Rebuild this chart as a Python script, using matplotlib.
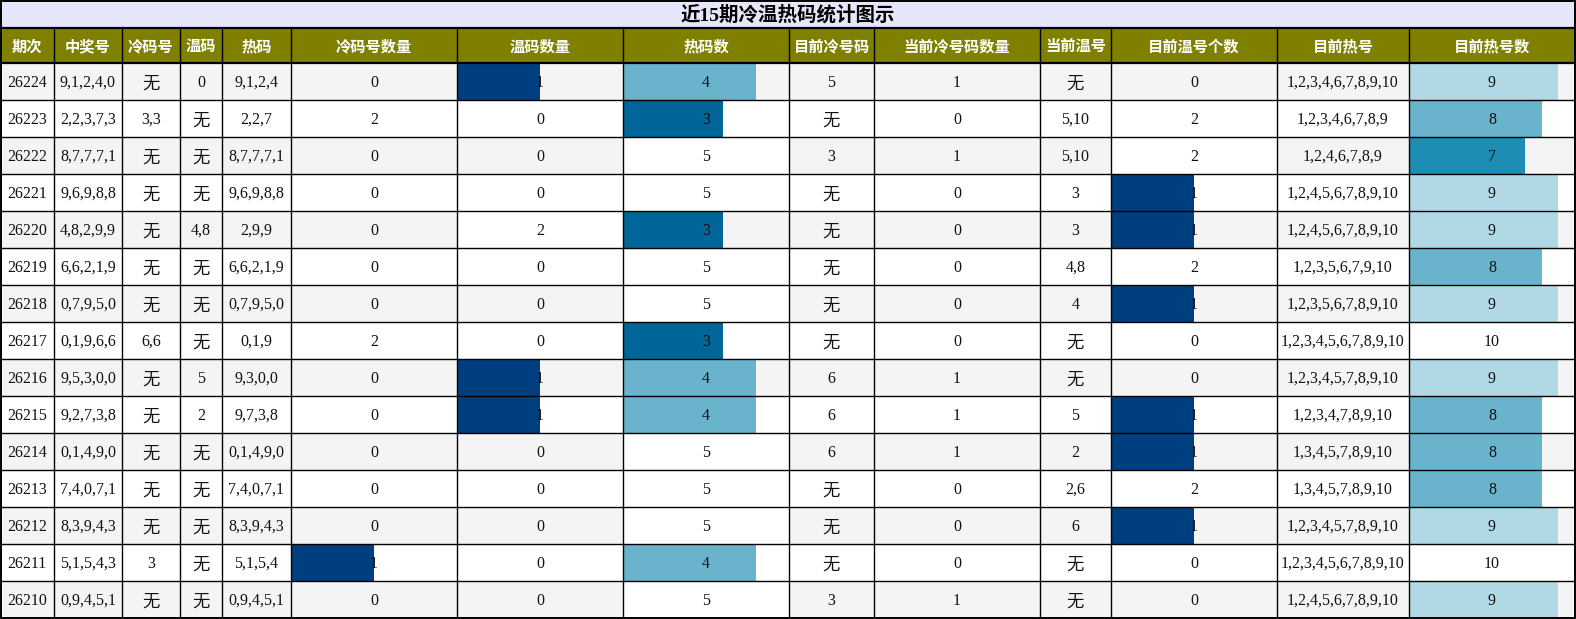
"""近15期冷温热码统计图示 — table with in-cell data bars."""
import matplotlib
matplotlib.use("Agg")
import matplotlib.pyplot as plt
from matplotlib.patches import Rectangle

# ---- data (one list per column)
title = "近15期冷温热码统计图示"
headers = ["期次", "中奖号", "冷码号", "温码", "热码", "冷码号数量", "温码数量", "热码数",
           "目前冷号码", "当前冷号码数量", "当前温号", "目前温号个数", "目前热号", "目前热号数"]

issue = ["26224", "26223", "26222", "26221", "26220", "26219", "26218", "26217",
         "26216", "26215", "26214", "26213", "26212", "26211", "26210"]
winning = ["9,1,2,4,0", "2,2,3,7,3", "8,7,7,7,1", "9,6,9,8,8", "4,8,2,9,9", "6,6,2,1,9",
           "0,7,9,5,0", "0,1,9,6,6", "9,5,3,0,0", "9,2,7,3,8", "0,1,4,9,0", "7,4,0,7,1",
           "8,3,9,4,3", "5,1,5,4,3", "0,9,4,5,1"]
cold = ["无", "3,3", "无", "无", "无", "无", "无", "6,6", "无", "无", "无", "无", "无", "3", "无"]
warm = ["0", "无", "无", "无", "4,8", "无", "无", "无", "5", "2", "无", "无", "无", "无", "无"]
hot = ["9,1,2,4", "2,2,7", "8,7,7,7,1", "9,6,9,8,8", "2,9,9", "6,6,2,1,9", "0,7,9,5,0",
       "0,1,9", "9,3,0,0", "9,7,3,8", "0,1,4,9,0", "7,4,0,7,1", "8,3,9,4,3", "5,1,5,4",
       "0,9,4,5,1"]
cold_cnt = [0, 2, 0, 0, 0, 0, 0, 2, 0, 0, 0, 0, 0, 1, 0]
warm_cnt = [1, 0, 0, 0, 2, 0, 0, 0, 1, 1, 0, 0, 0, 0, 0]
hot_cnt = [4, 3, 5, 5, 3, 5, 5, 3, 4, 4, 5, 5, 5, 4, 5]
cur_cold = ["5", "无", "3", "无", "无", "无", "无", "无", "6", "6", "6", "无", "无", "无", "3"]
cur_cold_cnt = [1, 0, 1, 0, 0, 0, 0, 0, 1, 1, 1, 0, 0, 0, 1]
cur_warm = ["无", "5,10", "5,10", "3", "3", "4,8", "4", "无", "无", "5", "2", "2,6", "6", "无", "无"]
cur_warm_cnt = [0, 2, 2, 1, 1, 2, 1, 0, 0, 1, 1, 2, 1, 0, 0]
cur_hot = ["1,2,3,4,6,7,8,9,10", "1,2,3,4,6,7,8,9", "1,2,4,6,7,8,9", "1,2,4,5,6,7,8,9,10",
           "1,2,4,5,6,7,8,9,10", "1,2,3,5,6,7,9,10", "1,2,3,5,6,7,8,9,10",
           "1,2,3,4,5,6,7,8,9,10", "1,2,3,4,5,7,8,9,10", "1,2,3,4,7,8,9,10",
           "1,3,4,5,7,8,9,10", "1,3,4,5,7,8,9,10", "1,2,3,4,5,7,8,9,10",
           "1,2,3,4,5,6,7,8,9,10", "1,2,4,5,6,7,8,9,10"]
cur_hot_cnt = [9, 8, 7, 9, 9, 8, 9, 10, 9, 8, 8, 8, 9, 10, 9]

columns = [issue, winning, cold, warm, hot, cold_cnt, warm_cnt, hot_cnt,
           cur_cold, cur_cold_cnt, cur_warm, cur_warm_cnt, cur_hot, cur_hot_cnt]

# ---- styles / layout
DARK = "#003f7f"
bar_colors = {
    5: {1: DARK, 2: "white"},
    6: {1: DARK, 2: "white"},
    7: {3: "#006699", 4: "#69b4cc", 5: "white"},
    11: {1: DARK, 2: "white"},
    13: {7: "#1e8db6", 8: "#69b4cc", 9: "#b1d9e5", 10: "white"},
}
col_edges = [0, 54, 122, 180, 222, 291, 457, 623, 789, 874, 1040, 1111, 1277, 1409, 1575]
W, H = 1576, 619
title_h, head_top, head_bot, row_h = 27.5, 27.5, 63, 37

body_font = ["Liberation Serif", "Noto Sans CJK SC"]
head_font = ["Noto Sans CJK SC", "DejaVu Sans"]

fig = plt.figure(figsize=(W / 100, H / 100), dpi=100)
ax = fig.add_axes([0, 0, 1, 1])
ax.set_xlim(0, W)
ax.set_ylim(H, 0)
ax.axis("off")

n_rows = len(issue)
x_left, x_right = col_edges[0] + 0.5, col_edges[-1]
y_bottom = head_bot + n_rows * row_h

# title band
ax.add_patch(Rectangle((x_left, 0.5), x_right - x_left, title_h, fc="#e6e6fa", ec="none"))
ax.text((x_left + x_right) / 2, title_h / 2 + 7, title, ha="center", va="baseline",
        fontsize=14, fontweight="bold", family=["Liberation Serif", "Noto Sans CJK SC"],
        color="black")

# header band
ax.add_patch(Rectangle((x_left, head_top), x_right - x_left, head_bot - head_top,
                       fc="#808000", ec="none"))
for j, h in enumerate(headers):
    cx = (col_edges[j] + col_edges[j + 1]) / 2
    ax.text(cx, (head_top + head_bot) / 2 + 6, h, ha="center", va="baseline", fontsize=11,
            fontweight="bold", color="white", family=head_font)

# body rows
for i in range(n_rows):
    y0 = head_bot + i * row_h
    bg = "#f4f4f4" if i % 2 == 0 else "white"
    ax.add_patch(Rectangle((x_left, y0), x_right - x_left, row_h, fc=bg, ec="none"))
    for j, col in enumerate(columns):
        l, r = col_edges[j], col_edges[j + 1]
        val = col[i]
        if j in bar_colors and val > 0:
            frac = val / max(col)
            ax.barh(y0 + row_h / 2, frac * (r - l), left=l, height=row_h,
                    color=bar_colors[j][val], edgecolor="none")
        if val == "无":
            ax.text((l + r) / 2, y0 + row_h / 2 + 7, val, ha="center", va="baseline",
                    fontsize=12.5, family=body_font, color="#111111")
        else:
            ax.text((l + r) / 2, y0 + row_h / 2 + 5.5, str(val), ha="center", va="baseline",
                    fontsize=11.5, family=body_font, color="#111111")

# grid lines
ax.hlines([head_bot + i * row_h for i in range(1, n_rows)], x_left, x_right,
          color="black", lw=1.0)
ax.hlines([title_h, head_bot], x_left, x_right, color="black", lw=1.6)
ax.vlines(col_edges[1:-1], head_top, y_bottom, color="black", lw=1.0)
ax.add_patch(Rectangle((x_left, 0.8), x_right - x_left, y_bottom - 1.2, fc="none",
                       ec="black", lw=1.4))

fig.savefig("out.png", dpi=100)
